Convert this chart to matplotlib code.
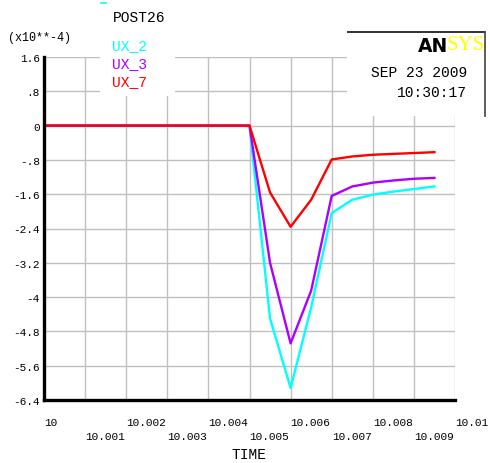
import matplotlib
matplotlib.use("Agg")
import matplotlib.pyplot as plt
from matplotlib.patches import Rectangle
from matplotlib.lines import Line2D

# ---------------- data ----------------
time = [10.0000, 10.0005, 10.0010, 10.0015, 10.0020, 10.0025, 10.0030, 10.0035,
        10.0040, 10.0045, 10.0050, 10.0055, 10.0060, 10.0065, 10.0070, 10.0075,
        10.0080, 10.0085, 10.0090, 10.0095]
ux_2 = [0, 0, 0, 0, 0, 0, 0, 0, 0, 0,
        0, -4.50, -6.12, -4.24, -2.04, -1.73, -1.61, -1.54, -1.48, -1.42]
ux_3 = [0, 0, 0, 0, 0, 0, 0, 0, 0, 0,
        0, -3.20, -5.08, -3.85, -1.64, -1.42, -1.33, -1.28, -1.24, -1.22]
ux_7 = [0, 0, 0, 0, 0, 0, 0, 0, 0, 0,
        0, -1.56, -2.36, -1.73, -0.79, -0.72, -0.68, -0.66, -0.64, -0.62]
series_names = ["UX_2", "UX_3", "UX_7"]
series_colors = ["#00ffff", "#aa00ff", "#ff0000"]

y_ticks = [1.6, 0.8, 0, -0.8, -1.6, -2.4, -3.2, -4.0, -4.8, -5.6, -6.4]
y_labels = ["1.6", ".8", "0", "-.8", "-1.6", "-2.4", "-3.2", "-4", "-4.8", "-5.6", "-6.4"]
x_major = [10.000, 10.002, 10.004, 10.006, 10.008, 10.010]
x_major_labels = ["10", "10.002", "10.004", "10.006", "10.008", "10.01"]
x_minor = [10.001, 10.003, 10.005, 10.007, 10.009]
x_minor_labels = ["10.001", "10.003", "10.005", "10.007", "10.009"]

W, H = 490, 464
MONO = "Liberation Mono"

fig = plt.figure(figsize=(W / 100, H / 100), dpi=100)
fig.patch.set_facecolor("white")

def fx(x):
    return x / W

def fy(y):
    return 1 - y / H

left, right, top, bottom = 44, 455, 58, 401
ax = fig.add_axes([fx(left), fy(bottom), (right - left) / W, (bottom - top) / H])
ax.set_xlim(10.0, 10.01)
ax.set_ylim(-6.4, 1.6)

for s in ["top", "right"]:
    ax.spines[s].set_visible(False)
for s in ["left", "bottom"]:
    ax.spines[s].set_linewidth(2.4)
    ax.spines[s].set_color("black")
    ax.spines[s].set_zorder(5)

ax.set_yticks(y_ticks, labels=y_labels)
ax.set_xticks(x_major, labels=x_major_labels)
ax.set_xticks(x_minor, labels=x_minor_labels, minor=True)

ax.tick_params(axis="both", which="both", length=0)
ax.tick_params(axis="y", pad=3, labelsize=8)
ax.tick_params(axis="x", which="major", pad=12.5, labelsize=8)
ax.tick_params(axis="x", which="minor", pad=22, labelsize=8)
for lab in ax.get_xticklabels(which="both"):
    lab.set_horizontalalignment("left")
    lab.set_fontfamily(MONO)
for lab in ax.get_yticklabels():
    lab.set_fontfamily(MONO)

ax.grid(True, which="both", color="#c0c0c0", linewidth=1.0, zorder=0)
ax.set_axisbelow(True)

for vals, name, col in zip([ux_2, ux_3, ux_7], series_names, series_colors):
    ax.plot(time, vals, color=col, linewidth=1.7, zorder=3, label=name)

ax.set_xlabel("TIME", fontfamily=MONO, fontsize=10.5)
ax.xaxis.set_label_coords((249 - left) / (right - left), (bottom - 455) / (bottom - top))
ax.xaxis.label.set_verticalalignment("center")

# white boxes masking the grid (legend area and ANSYS box)
fig.patches.append(Rectangle((fx(100), fy(97)), 75 / W, 60 / H, transform=fig.transFigure,
                             facecolor="white", edgecolor="none", zorder=1))
fig.patches.append(Rectangle((fx(347), fy(117)), 138 / W, 84 / H, transform=fig.transFigure,
                             facecolor="white", edgecolor="none", zorder=1))
fig.lines.append(Line2D([fx(348), fx(485)], [fy(33), fy(33)], transform=fig.transFigure,
                        color="#202020", linewidth=1.3, zorder=2))
fig.lines.append(Line2D([fx(485), fx(485)], [fy(33), fy(117)], transform=fig.transFigure,
                        color="#505050", linewidth=1.3, zorder=2))

# small cyan mark at top
fig.lines.append(Line2D([fx(101), fx(106)], [fy(4), fy(4)], transform=fig.transFigure,
                        color="#00ffff", linewidth=1.2, zorder=2))

# texts
fig.text(fx(113), fy(18), "POST26", fontfamily=MONO, fontsize=10.5, ha="left", va="center", zorder=4)
fig.text(fx(8), fy(38), "(x10**-4)", fontfamily=MONO, fontsize=8.5, ha="left", va="center", zorder=4)
for i, (name, col) in enumerate(zip(series_names, series_colors)):
    fig.text(fx(112), fy(46 + 18 * i), name, fontfamily=MONO, fontsize=10.5, color=col,
             ha="left", va="center", zorder=4)

fig.text(fx(448), fy(46), "AN", fontfamily="DejaVu Sans", fontweight="bold", fontsize=13.5,
         color="black", ha="right", va="center", zorder=4)
fig.text(fx(447), fy(46), "SYS", fontfamily="Liberation Serif", fontsize=15,
         color="#ffff00", ha="left", va="center", zorder=4)
fig.text(fx(467), fy(73), "SEP 23 2009", fontfamily=MONO, fontsize=10.5, ha="right", va="center", zorder=4)
fig.text(fx(467), fy(93), "10:30:17", fontfamily=MONO, fontsize=10.5, ha="right", va="center", zorder=4)

fig.savefig("out.png", dpi=100, facecolor="white")
